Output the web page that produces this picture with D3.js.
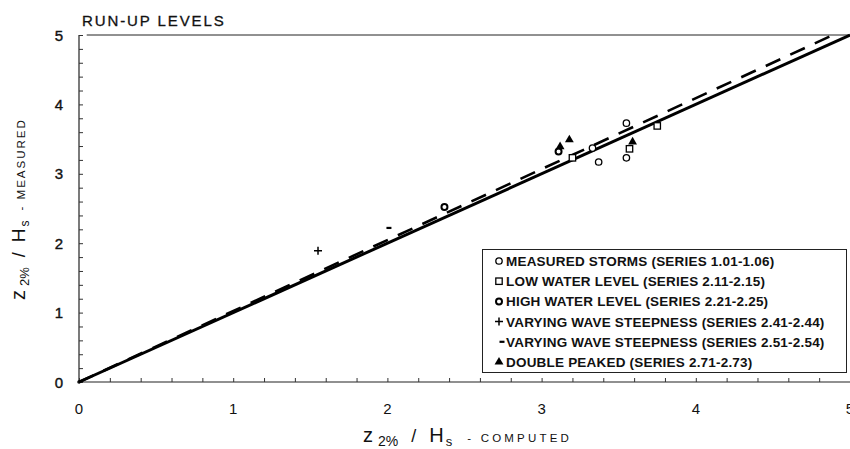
<!DOCTYPE html>
<html>
<head>
<meta charset="utf-8">
<script src="https://cdn.jsdelivr.net/npm/d3@7"></script>
<style>
  body { margin: 0; background: #fff; }
  svg { display: block; font-family: "Liberation Sans", Arial, sans-serif; }
</style>
</head>
<body>
<svg id="chart" width="850" height="449"></svg>
<script>
// values
const xTicks = [0, 1, 2, 3, 4, 5];
const yTicks = [0, 1, 2, 3, 4, 5];
const solidX = [0, 5];
const solidY = [0, 5];
const dashX = [0, 4.89];
const dashY = [0, 5];

const measuredStorms = [[3.55, 3.73], [3.33, 3.37], [3.37, 3.17], [3.55, 3.23]];
const lowWater = [[3.20, 3.23], [3.57, 3.36], [3.75, 3.69]];
const highWater = [[2.37, 2.52], [3.11, 3.32]];
const steepPlus = [[1.55, 1.89]];
const steepMinus = [[2.01, 2.22]];
const doublePeaked = [[3.18, 3.49], [3.59, 3.46], [3.12, 3.39]];

const legendLabels = [
  "MEASURED STORMS (SERIES 1.01-1.06)",
  "LOW WATER LEVEL (SERIES 2.11-2.15)",
  "HIGH WATER LEVEL (SERIES 2.21-2.25)",
  "VARYING WAVE STEEPNESS (SERIES 2.41-2.44)",
  "VARYING WAVE STEEPNESS (SERIES 2.51-2.54)",
  "DOUBLE PEAKED (SERIES 2.71-2.73)"
];
const legendKinds = ["circle", "square", "bold", "plus", "minus", "triangle"];

const svg = d3.select("#chart");
const x = d3.scaleLinear().domain([0, 5]).range([79, 850]);
const y = d3.scaleLinear().domain([0, 5]).range([382, 35]);

// minor ticks every 0.2
const minor = d3.range(0, 5.001, 0.2);

const g = svg.append("g");

// axes
g.append("g").attr("transform", "translate(79,0)")
  .call(d3.axisRight(y).tickValues(minor).tickSize(4).tickFormat(""))
  .call(a => a.select(".domain").attr("stroke", "#222").attr("stroke-width", 1.2).attr("d", "M0,35V382"))
  .call(a => a.selectAll(".tick line").attr("stroke", "#333"));

g.append("g").attr("transform", "translate(0,382)")
  .call(d3.axisTop(x).tickValues(minor).tickSize(4).tickFormat(""))
  .call(a => a.select(".domain").attr("stroke", "#222").attr("stroke-width", 1.2).attr("d", "M79,0H850"))
  .call(a => a.selectAll(".tick line").attr("stroke", "#333"));

// top frame line
g.append("line").attr("x1", x(0.05)).attr("x2", x(5)).attr("y1", y(5)).attr("y2", y(5))
  .attr("stroke", "#222").attr("stroke-width", 1);

// tick labels
g.selectAll(".ylab").data(yTicks).join("text")
  .attr("x", 63).attr("y", d => y(d) + 5.5)
  .attr("text-anchor", "end").attr("font-size", 15).attr("fill", "#111")
  .attr("stroke", "#111").attr("stroke-width", 0.4)
  .text(d => d);
g.selectAll(".xlab").data(xTicks).join("text")
  .attr("x", d => x(d)).attr("y", 414)
  .attr("text-anchor", "middle").attr("font-size", 15).attr("fill", "#111")
  .text(d => d);

// origin dot
g.append("circle").attr("cx", x(0)).attr("cy", y(0)).attr("r", 1.8).attr("fill", "#111");

// lines
const line = d3.line().x(d => x(d[0])).y(d => y(d[1]));
g.append("path").datum(solidX.map((v, i) => [v, solidY[i]]))
  .attr("d", line).attr("fill", "none").attr("stroke", "#000").attr("stroke-width", 3);
g.append("path").datum(dashX.map((v, i) => [v, dashY[i]]))
  .attr("d", line).attr("fill", "none").attr("stroke", "#000").attr("stroke-width", 2.6)
  .attr("stroke-dasharray", "16,11");

// markers
function marker(sel, kind) {
  if (kind === "circle") {
    sel.append("circle").attr("r", 3.2).attr("fill", "#fff").attr("stroke", "#000").attr("stroke-width", 1.3);
  } else if (kind === "bold") {
    sel.append("circle").attr("r", 3).attr("fill", "#fff").attr("stroke", "#000").attr("stroke-width", 2);
  } else if (kind === "square") {
    sel.append("rect").attr("x", -3.2).attr("y", -3.2).attr("width", 6.4).attr("height", 6.4)
      .attr("fill", "#fff").attr("stroke", "#000").attr("stroke-width", 1.3);
  } else if (kind === "triangle") {
    sel.append("path").attr("d", d3.symbol(d3.symbolTriangle, 34)).attr("fill", "#000");
  } else if (kind === "plus") {
    sel.append("path").attr("d", "M-4,0H4M0,-4V4").attr("stroke", "#000").attr("stroke-width", 1.5);
  } else if (kind === "minus") {
    sel.append("path").attr("d", "M-2.5,0H2.5").attr("stroke", "#000").attr("stroke-width", 2.2);
  }
}

const series = [
  [measuredStorms, "circle"],
  [lowWater, "square"],
  [highWater, "bold"],
  [steepPlus, "plus"],
  [steepMinus, "minus"],
  [doublePeaked, "triangle"]
];
series.forEach(([data, kind]) => {
  g.append("g").selectAll("g").data(data).join("g")
    .attr("transform", d => `translate(${x(d[0])},${y(d[1])})`)
    .each(function () { marker(d3.select(this), kind); });
});

// legend
const lg = svg.append("g");
lg.append("rect").attr("x", 482.5).attr("y", 249.5).attr("width", 364).attr("height", 123)
  .attr("fill", "#fff").attr("stroke", "#222").attr("stroke-width", 1);
legendLabels.forEach((lab, i) => {
  const cy = 261 + i * 20.2;
  const m = lg.append("g").attr("transform", `translate(${i === 4 ? 502 : 499},${cy})`);
  marker(m, legendKinds[i]);
  lg.append("text").attr("x", 506).attr("y", cy + 5)
    .attr("font-size", 13.5).attr("font-weight", "bold").attr("fill", "#111")
    .attr("letter-spacing", 0.2)
    .text(lab);
});

// title
svg.append("text").attr("x", 82).attr("y", 26).attr("font-size", 15)
  .attr("letter-spacing", 1.9).attr("fill", "#111").attr("stroke", "#111").attr("stroke-width", 0.3)
  .text("RUN-UP LEVELS");

// axis titles
function axisTitle(t, tail, o) {
  t.append("tspan").attr("font-size", 20).text("z");
  t.append("tspan").attr("font-size", o.sub).attr("dy", 4).attr("dx", o.gap1).text("2%");
  t.append("tspan").attr("font-size", 18).attr("dy", -4).attr("dx", o.gap2).text("/");
  t.append("tspan").attr("font-size", o.h).attr("dx", o.gap2).text("H");
  t.append("tspan").attr("font-size", o.sub - 1).attr("dy", 4).attr("dx", 2).text("s");
  t.append("tspan").attr("font-size", 11.5).attr("dy", -4).attr("dx", o.gap3)
    .attr("letter-spacing", o.ls).text("- " + tail);
}
const xt = svg.append("text").attr("x", 363).attr("y", 442).attr("fill", "#111");
axisTitle(xt, "COMPUTED", { sub: 14, gap1: 5, gap2: 13, h: 20, gap3: 15, ls: 3.2 });
const yt = svg.append("text").attr("transform", "translate(25,300) rotate(-90)").attr("fill", "#111");
axisTitle(yt, "MEASURED", { sub: 13, gap1: 4, gap2: 10, h: 19, gap3: 10, ls: 2 });
</script>
</body>
</html>
